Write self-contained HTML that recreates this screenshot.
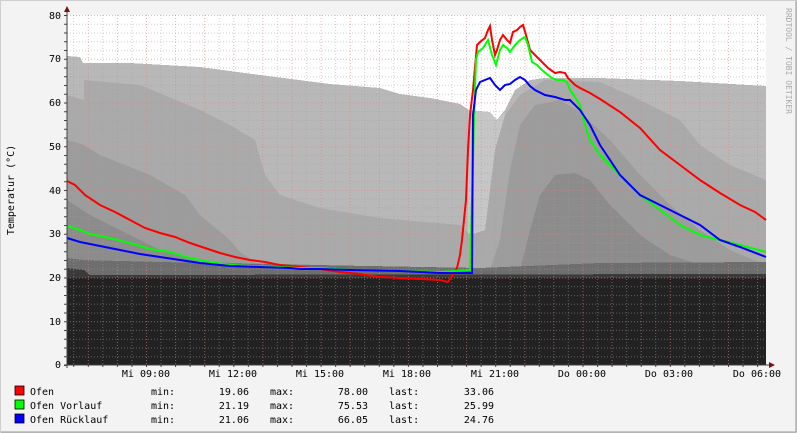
<!DOCTYPE html>
<html><head><style>
html,body{margin:0;padding:0;background:#f3f3f3}
svg{display:block}
text{font-family:"DejaVu Sans Mono","Liberation Mono",monospace;font-size:10px;fill:#000}
</style></head><body>
<svg width="797" height="433" viewBox="0 0 797 433" xmlns="http://www.w3.org/2000/svg">
<defs>
<pattern id="vg" patternUnits="userSpaceOnUse" x="58.7" y="15" width="29.1" height="350">
<line x1="0.5" y1="0" x2="0.5" y2="350" stroke="#e08080" stroke-opacity="0.6" stroke-dasharray="1,2"/>
<line x1="15" y1="0" x2="15" y2="350" stroke="#a0a0a0" stroke-opacity="0.5" stroke-dasharray="1,2"/>
</pattern>
<pattern id="hg" patternUnits="userSpaceOnUse" x="67" y="15" width="699" height="43.75">
<line x1="0" y1="0.5" x2="699" y2="0.5" stroke="#e08080" stroke-opacity="0.6" stroke-dasharray="1,2"/>
<line x1="0" y1="9.25" x2="699" y2="9.25" stroke="#a0a0a0" stroke-opacity="0.5" stroke-dasharray="1,2"/>
<line x1="0" y1="18" x2="699" y2="18" stroke="#a0a0a0" stroke-opacity="0.5" stroke-dasharray="1,2"/>
<line x1="0" y1="26.75" x2="699" y2="26.75" stroke="#a0a0a0" stroke-opacity="0.5" stroke-dasharray="1,2"/>
<line x1="0" y1="35.5" x2="699" y2="35.5" stroke="#a0a0a0" stroke-opacity="0.5" stroke-dasharray="1,2"/>
</pattern>
<pattern id="tk" patternUnits="userSpaceOnUse" x="58.7" y="365" width="14.55" height="4">
<line x1="0.5" y1="0" x2="0.5" y2="2" stroke="#404040"/>
</pattern>
<pattern id="ytk" patternUnits="userSpaceOnUse" x="64" y="15" width="3" height="8.75">
<line x1="0" y1="0.5" x2="3" y2="0.5" stroke="#404040"/>
</pattern>
</defs>
<rect x="0" y="0" width="797" height="433" fill="#f3f3f3"/>
<rect x="0.5" y="0.5" width="796" height="432" fill="none" stroke="#cfcfcf"/>
<line x1="1" y1="432" x2="796" y2="432" stroke="#999"/>
<line x1="796" y1="1" x2="796" y2="432" stroke="#999"/>
<rect x="67" y="15" width="699" height="350" fill="#ffffff"/>
<g shape-rendering="crispEdges">
<polygon fill="#b8b8b8" points="67,56 80,57 83,63 130,63 200,67 260,75 330,84 380,88 400,94 430,98 460,104 472,112 490,115 497,120 505,110 515,90 530,80 545,78 600,78 680,81 766,86 766,365 67,365"/>
<polygon fill="#c6c6c6" points="468,110 490,112 497,120 505,112 505,270 468,270"/>
<polygon fill="#aaaaaa" points="67,95 84,100 84,80 140,85 200,110 230,125 255,140 265,175 280,195 320,208 380,218 460,225 470,235 485,230 495,150 505,115 520,95 545,80 600,82 640,100 680,120 700,145 730,165 766,180 766,365 67,365"/>
<polygon fill="#9c9c9c" points="67,140 84,145 100,155 150,175 185,195 200,215 230,240 240,252 260,265 480,268 490,270 500,240 510,170 520,125 535,105 560,100 580,112 610,140 640,175 670,205 700,230 730,250 766,265 766,365 67,365"/>
<polygon fill="#8c8c8c" points="67,200 90,215 130,235 160,250 200,262 520,270 530,230 540,195 555,175 575,173 590,180 610,205 640,235 670,255 700,265 766,266 766,365 67,365"/>
<polygon fill="#6e6e6e" points="67,258 84,260 200,263 480,268 600,263 766,262 766,365 67,365"/>
<polygon fill="#3a3a3a" points="67,268 84,270 90,275 766,274 766,365 67,365"/>
<rect x="67" y="278" width="699" height="87" fill="#222222"/>
<rect x="67" y="15" width="699" height="350" fill="url(#hg)"/>
<rect x="67" y="15" width="699" height="350" fill="url(#vg)"/>
</g>
<g fill="none" stroke-width="2" stroke-linejoin="miter">
<polyline stroke="#ff0000" points="67,181 75,185 85,195 100,205 115,212 130,220 145,228 160,233 175,237 190,243 205,248 220,253 235,257 250,260 265,262 280,265 300,267 320,269 340,272 360,274 380,277 400,278 420,279 440,280 448,282 452,276 457,268 460,255 462,240 464,220 466,200 468,150 470,115 473,90 477,45 480,42 485,38 488,30 490,26 492,40 495,55 497,50 500,40 503,35 507,40 510,43 513,32 517,30 520,27 523,25 526,35 530,50 535,55 540,60 548,68 555,73 560,72 565,73 568,78 575,85 580,88 590,93 600,99 620,112 640,128 660,150 680,165 700,180 720,193 740,205 755,212 766,220"/>
<polyline stroke="#00ff00" points="67,226 80,230 90,234 110,238 130,243 150,249 170,252 190,258 210,262 230,265 250,266 280,267 300,268 320,268 350,270 400,271 440,272 470,270 472,200 474,120 476,60 478,52 483,48 488,40 492,55 496,65 500,50 503,45 507,48 510,52 515,45 520,40 525,37 528,45 532,62 537,65 542,70 548,75 552,78 557,80 563,80 567,82 570,90 575,97 580,105 585,125 590,140 600,155 620,175 640,195 660,210 680,225 700,235 720,240 740,245 766,252"/>
<polyline stroke="#0000ff" points="67,238 80,242 100,246 120,250 140,254 160,257 180,260 200,263 230,266 260,267 290,268 300,269 320,269 350,270 400,271 440,273 472,273 473,115 476,90 480,82 490,78 495,85 500,90 505,85 510,84 515,80 520,77 525,80 530,86 535,90 545,95 555,97 565,100 570,100 580,110 590,125 600,145 610,160 620,175 630,185 640,195 660,205 680,215 700,225 720,240 740,247 766,257"/>
</g>
<g stroke="#404040" shape-rendering="crispEdges">
<line x1="67" y1="10" x2="67" y2="368"/>
<line x1="64" y1="365" x2="771" y2="365"/>
</g>
<rect x="67" y="365" width="699" height="3" fill="url(#tk)" shape-rendering="crispEdges"/>
<rect x="64" y="15" width="3" height="351" fill="url(#ytk)" shape-rendering="crispEdges"/>
<polygon points="64,12 70,12 67,6" fill="#7a1010"/>
<polygon points="769,362 769,368 775,365" fill="#7a1010"/>
<g text-anchor="end">
<text x="61" y="19">80</text><text x="61" y="62">70</text><text x="61" y="106">60</text><text x="61" y="150">50</text><text x="61" y="194">40</text><text x="61" y="237">30</text><text x="61" y="281">20</text><text x="61" y="325">10</text><text x="61" y="368">0</text>
</g>
<g text-anchor="middle">
<text x="146" y="377">Mi 09:00</text><text x="233" y="377">Mi 12:00</text><text x="320" y="377">Mi 15:00</text><text x="407" y="377">Mi 18:00</text><text x="495" y="377">Mi 21:00</text><text x="582" y="377">Do 00:00</text><text x="669" y="377">Do 03:00</text><text x="757" y="377">Do 06:00</text>
</g>
<text transform="translate(14,190) rotate(-90)" text-anchor="middle">Temperatur (°C)</text>
<text transform="translate(786,8) rotate(90)" style="font-size:8px;fill:#aaa">RRDTOOL / TOBI OETIKER</text>
<rect x="15" y="386" width="9" height="9" fill="#ff0000" stroke="#000" stroke-width="0.8"/>
<rect x="15" y="400" width="9" height="9" fill="#00ff00" stroke="#000" stroke-width="0.8"/>
<rect x="15" y="414" width="9" height="9" fill="#0000ff" stroke="#000" stroke-width="0.8"/>
<text x="30" y="395">Ofen</text><text x="151" y="395">min:</text><text x="249" y="395" text-anchor="end">19.06</text><text x="270" y="395">max:</text><text x="368" y="395" text-anchor="end">78.00</text><text x="389" y="395">last:</text><text x="494" y="395" text-anchor="end">33.06</text>
<text x="30" y="409">Ofen Vorlauf</text><text x="151" y="409">min:</text><text x="249" y="409" text-anchor="end">21.19</text><text x="270" y="409">max:</text><text x="368" y="409" text-anchor="end">75.53</text><text x="389" y="409">last:</text><text x="494" y="409" text-anchor="end">25.99</text>
<text x="30" y="423">Ofen Rücklauf</text><text x="151" y="423">min:</text><text x="249" y="423" text-anchor="end">21.06</text><text x="270" y="423">max:</text><text x="368" y="423" text-anchor="end">66.05</text><text x="389" y="423">last:</text><text x="494" y="423" text-anchor="end">24.76</text>
</svg>
</body></html>
